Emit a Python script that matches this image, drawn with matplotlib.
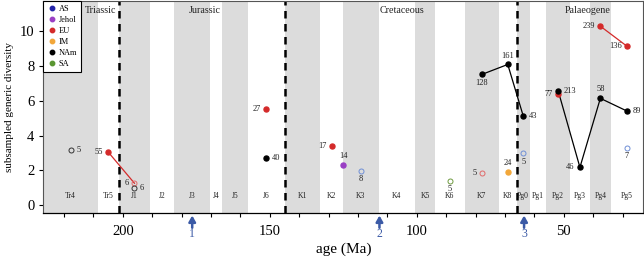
import matplotlib
matplotlib.use("Agg")
import matplotlib.pyplot as plt
from matplotlib.lines import Line2D
import numpy as np

plt.rcParams['font.family'] = ['Liberation Serif', 'DejaVu Serif']

# ---- data ----
stage_names = ['Tr4', 'Tr5', 'J1', 'J2', 'J3', 'J4', 'J5', 'J6', 'K1', 'K2', 'K3',
               'K4', 'K5', 'K6', 'K7', 'K8', 'Pg0', 'Pg1', 'Pg2', 'Pg3', 'Pg4', 'Pg5']
stage_bounds = [227, 208.5, 201.3, 190.8, 182.7, 170.3, 166.1, 157.3, 145, 132.9, 125,
                113, 100.5, 93.9, 83.6, 72.1, 66, 61.6, 56, 47.8, 41.2, 33.9, 23.03]
period_names = ['Triassic', 'Jurassic', 'Cretaceous', 'Palaeogene']
period_label_x = [207.5, 172, 105, 42]
period_bounds = [201.3, 145, 66]
event_ages = [176.4, 112.7, 63.5]
event_labels = ['1', '2', '3']

regions = ['AS', 'Jehol', 'EU', 'IM', 'NAm', 'SA']
region_colors = {'AS': '#2323a8', 'Jehol': '#9a3fc4', 'EU': '#d42a2a',
                 'IM': '#f2a73a', 'NAm': '#000000', 'SA': '#5a9632'}
open_colors = {'AS': '#6f8fd6', 'EU': '#e06a6a', 'NAm': '#333333', 'SA': '#6f9a40'}

# per region: stage, diversity, sample label, filled?
AS_stage = ['K3', 'Pg0', 'Pg5']
AS_div = [1.97, 2.98, 3.30]
AS_n = ['8', '5', '7']
AS_filled = [False, False, False]

Jehol_age = [125.0]
Jehol_div = [2.31]
Jehol_n = ['14']
Jehol_filled = [True]

EU_stage = ['Tr5', 'J1', 'J6', 'K2', 'K7', 'Pg2', 'Pg4', 'Pg5']
EU_div = [3.04, 1.27, 5.50, 3.42, 1.84, 6.37, 10.26, 9.11]
EU_n = ['55', '6', '27', '17', '5', '77', '239', '136']
EU_filled = [True, False, True, True, False, True, True, True]

IM_stage = ['K8']
IM_div = [1.90]
IM_n = ['24']
IM_filled = [True]

NAm_stage = ['Tr4', 'J1', 'J6', 'K7', 'K8', 'Pg0', 'Pg2', 'Pg3', 'Pg4', 'Pg5']
NAm_div = [3.17, 1.00, 2.70, 7.50, 8.07, 5.13, 6.56, 2.18, 6.13, 5.40]
NAm_n = ['5', '6', '40', '128', '161', '43', '213', '46', '58', '89']
NAm_filled = [False, False, True, True, True, True, True, True, True, True]

SA_stage = ['K6']
SA_div = [1.40]
SA_n = ['5']
SA_filled = [False]

# label placement (style)
AS_pos = ['b', 'b', 'b']
Jehol_pos = ['a']
EU_pos = ['l', 'l', 'l', 'l', 'l', 'l', 'l', 'l']
IM_pos = ['a']
NAm_pos = ['r', 'r', 'r', 'b', 'a', 'r', 'r', 'l', 'a', 'r']
SA_pos = ['b']

mid = {n: (stage_bounds[i] + stage_bounds[i + 1]) / 2 for i, n in enumerate(stage_names)}
idx = {n: i for i, n in enumerate(stage_names)}

fig = plt.figure(figsize=(6.44, 2.60), dpi=100)
ax = fig.add_axes([0.0675, 0.181, 0.9310, 0.815])
ax.set_xlim(227, 23.03)
ax.set_ylim(-0.43, 11.7)

# stage bands
for i, n in enumerate(stage_names):
    if i % 2 == 0:
        ax.axvspan(stage_bounds[i], stage_bounds[i + 1], color='#dcdcdc', lw=0, zorder=0)
    ax.text(mid[n], 0.08, n, transform=ax.get_xaxis_transform(), ha='center', va='center',
            fontsize=5.5, color='#222222', zorder=3)

for b in period_bounds:
    ax.axvline(b, color='black', lw=1.8, ls=(0, (3, 2.2)), zorder=2)

for name, px in zip(period_names, period_label_x):
    ax.text(px, 0.955, name, transform=ax.get_xaxis_transform(), ha='center', va='center',
            fontsize=7.2, color='#222222', zorder=3)

offs = {'r': (4, 0, 'left', 'center'), 'l': (-4, 0, 'right', 'center'),
        'a': (0, 3.5, 'center', 'bottom'), 'b': (0, -3, 'center', 'top')}


def plot_region(reg, stages, ys, ns, filled, pos, ages=None):
    col = region_colors[reg]
    xs = ages if ages is not None else [mid[s] for s in stages]
    if ages is None:
        for j in range(len(stages) - 1):
            if idx[stages[j + 1]] - idx[stages[j]] == 1:
                ax.plot([xs[j], xs[j + 1]], [ys[j], ys[j + 1]], color=col, lw=0.9, zorder=4)
    for x, y, n, f, p in zip(xs, ys, ns, filled, pos):
        if f:
            ax.plot(x, y, 'o', ms=3.6, color=col, mec=col, zorder=5)
        else:
            oc = open_colors.get(reg, col)
            ax.plot(x, y, 'o', ms=3.6, mfc='none', mec=oc, mew=0.7, zorder=5)
        dx, dy, ha, va = offs[p]
        ax.annotate(n, (x, y), xytext=(dx, dy), textcoords='offset points', ha=ha, va=va,
                    fontsize=6, color='#222222', zorder=6)


plot_region('AS', AS_stage, AS_div, AS_n, AS_filled, AS_pos)
plot_region('Jehol', None, Jehol_div, Jehol_n, Jehol_filled, Jehol_pos, ages=Jehol_age)
plot_region('EU', EU_stage, EU_div, EU_n, EU_filled, EU_pos)
plot_region('IM', IM_stage, IM_div, IM_n, IM_filled, IM_pos)
plot_region('NAm', NAm_stage, NAm_div, NAm_n, NAm_filled, NAm_pos)
plot_region('SA', SA_stage, SA_div, SA_n, SA_filled, SA_pos)

# event arrows
for a, l in zip(event_ages, event_labels):
    ax.annotate('', xy=(a, -0.012), xytext=(a, -0.07), xycoords=ax.get_xaxis_transform(),
                arrowprops=dict(arrowstyle='-|>,head_width=0.2,head_length=0.35',
                                color='#3b5aa6', lw=1.8, shrinkA=0, shrinkB=0),
                annotation_clip=False)
    ax.text(a, -0.098, l, transform=ax.get_xaxis_transform(), ha='center', va='center',
            fontsize=8.5, color='#3b5aa6')

# axes styling
for s in ['top', 'left', 'right']:
    ax.spines[s].set_color('#555555')
    ax.spines[s].set_linewidth(0.8)
ax.spines['bottom'].set_color('black')
ax.spines['bottom'].set_linewidth(0.9)
ax.set_yticks([0, 2, 4, 6, 8, 10])
ax.set_xticks([200, 150, 100, 50])
ax.set_xticks(np.arange(30, 227, 10), minor=True)
ax.tick_params(axis='both', which='major', labelsize=10.5, length=3, width=0.8, direction='out')
ax.tick_params(axis='x', which='major', pad=6)
ax.tick_params(axis='x', which='minor', length=3, width=0.8)
ax.set_xlabel('age (Ma)', fontsize=11, labelpad=3)
ax.set_ylabel('subsampled generic diversity', fontsize=8, labelpad=4)

handles = [Line2D([], [], marker='o', ls='none', ms=3.2, color=region_colors[r]) for r in regions]
leg = ax.legend(handles, regions, loc='upper left', fontsize=6, frameon=True, fancybox=False,
                borderaxespad=0, handlelength=1.0, handletextpad=0.3, labelspacing=0.35,
                borderpad=0.5)
leg.get_frame().set_edgecolor('black')
leg.get_frame().set_linewidth(0.8)
leg.get_frame().set_alpha(1)
leg.set_zorder(10)

fig.savefig('out.png', dpi=100)
